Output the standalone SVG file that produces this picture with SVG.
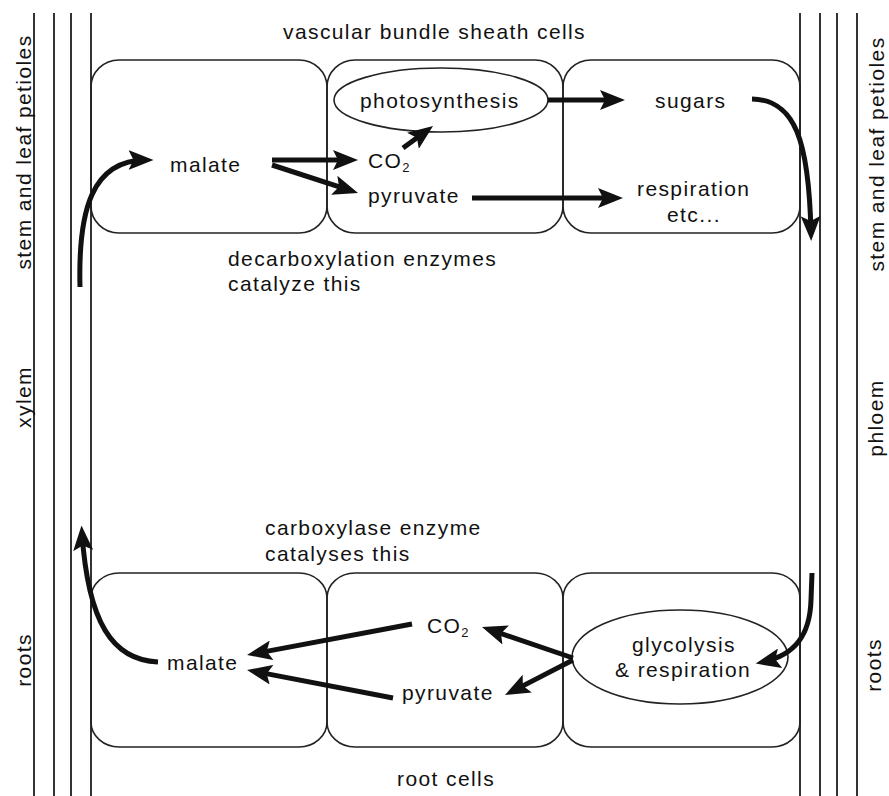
<svg xmlns="http://www.w3.org/2000/svg" width="889" height="796" viewBox="0 0 889 796">
<style>
text{font-family:"Liberation Sans",Arial,sans-serif;font-size:21px;letter-spacing:1.4px;fill:#111}
.wall{stroke:#333;stroke-width:2;fill:none}
.cell{stroke:#222;stroke-width:1.6;fill:none}
.arr{stroke:#111;stroke-width:5;fill:none;marker-end:url(#ah)}
.sub{font-size:13px;letter-spacing:0}
</style>
<defs>
<marker id="ah" viewBox="0 0 10 8" markerWidth="5" markerHeight="4" refX="7" refY="4" orient="auto" markerUnits="strokeWidth">
<path d="M0,0 L10,4 L0,8 L2,4 z" fill="#111"/>
</marker>
</defs>
<rect width="889" height="796" fill="#fff"/>
<g id="vessels">
<line class="wall" x1="34" y1="13" x2="34" y2="796"/>
<line class="wall" x1="54" y1="13" x2="54" y2="796"/>
<line class="wall" x1="71" y1="13" x2="71" y2="796"/>
<line class="wall" x1="91" y1="13" x2="91" y2="796"/>
<line class="wall" x1="800" y1="13" x2="800" y2="796"/>
<line class="wall" x1="820" y1="13" x2="820" y2="796"/>
<line class="wall" x1="837" y1="13" x2="837" y2="796"/>
<line class="wall" x1="857" y1="13" x2="857" y2="796"/>
</g>
<g id="side-labels">
<text transform="translate(31,152) rotate(-90)" text-anchor="middle">stem and leaf petioles</text>
<text transform="translate(31,397) rotate(-90)" text-anchor="middle">xylem</text>
<text transform="translate(31,660) rotate(-90)" text-anchor="middle">roots</text>
<text transform="translate(884,154) rotate(-90)" text-anchor="middle">stem and leaf petioles</text>
<text transform="translate(883,418) rotate(-90)" text-anchor="middle">phloem</text>
<text transform="translate(881,665) rotate(-90)" text-anchor="middle">roots</text>
</g>
<g id="sheath-cells">
<rect class="cell" x="91" y="60" width="236" height="173" rx="28" ry="27"/>
<rect class="cell" x="327" y="60" width="236" height="173" rx="28" ry="27"/>
<rect class="cell" x="563" y="60" width="237" height="173" rx="28" ry="27"/>
<text x="283" y="39">vascular bundle sheath cells</text>
</g>
<g id="root-cells">
<rect class="cell" x="91" y="573" width="236" height="174" rx="28" ry="25"/>
<rect class="cell" x="327" y="573" width="236" height="174" rx="28" ry="25"/>
<rect class="cell" x="563" y="573" width="237" height="174" rx="28" ry="25"/>
<text x="397" y="786">root cells</text>
</g>
<g id="photosynthesis">
<ellipse class="cell" cx="441" cy="100" rx="107" ry="32"/>
<text x="360" y="108">photosynthesis</text>
</g>
<g id="glycolysis">
<ellipse class="cell" cx="680" cy="657" rx="108" ry="47"/>
<text x="632" y="652">glycolysis</text>
<text x="615" y="677">&amp; respiration</text>
</g>
<g id="top-malate"><text x="170" y="172">malate</text></g>
<g id="top-co2"><text x="368" y="168">CO<tspan class="sub" dy="4">2</tspan></text></g>
<g id="top-pyruvate"><text x="368" y="203">pyruvate</text></g>
<g id="sugars"><text x="655" y="108">sugars</text></g>
<g id="respiration"><text x="637" y="196">respiration</text><text x="667" y="222">etc...</text></g>
<g id="decarboxylation-note"><text x="228" y="266">decarboxylation enzymes</text><text x="228" y="291">catalyze this</text></g>
<g id="carboxylase-note"><text x="265" y="535">carboxylase enzyme</text><text x="265" y="561">catalyses this</text></g>
<g id="bottom-malate"><text x="167" y="670">malate</text></g>
<g id="bottom-co2"><text x="427" y="633">CO<tspan class="sub" dy="4">2</tspan></text></g>
<g id="bottom-pyruvate"><text x="402" y="700">pyruvate</text></g>
<g id="connectors">
<path class="arr" d="M80,287 C78,210 92,160 146,160"/>
<path class="arr" d="M272,160 L350.5,160"/>
<path class="arr" d="M272,165 L350.9,190.7"/>
<path class="arr" d="M403,148 L427,130.4"/>
<path class="arr" d="M548,100 L617.5,100"/>
<path class="arr" d="M472,198 L615.5,198"/>
<path class="arr" d="M752,99 C795,100 809,140 811,233.5"/>
<path class="arr" d="M812,573 L811,600 C810,635 795,655 763,662"/>
<path class="arr" d="M573,658 L489.1,629.4"/>
<path class="arr" d="M573,660 L511.7,691.6"/>
<path class="arr" d="M412,624 L254.4,653.6"/>
<path class="arr" d="M393,698 L254.4,671.4"/>
<path class="arr" d="M158,662 C112,660 88,622 82,533"/>
</g>
</svg>
